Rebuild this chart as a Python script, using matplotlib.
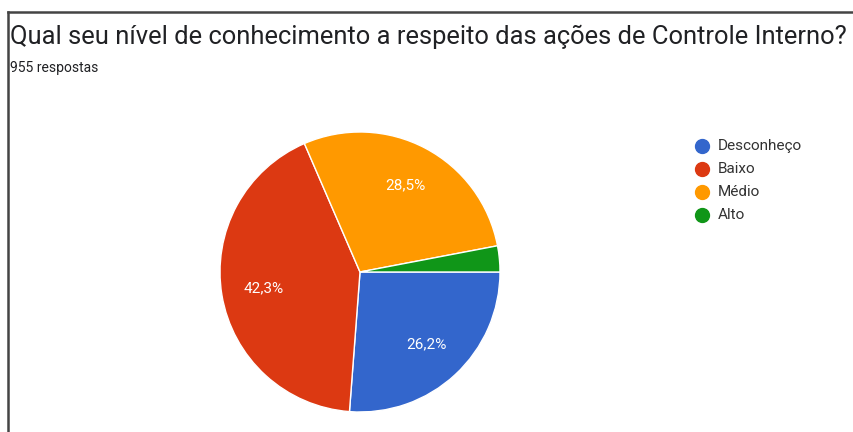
import matplotlib
matplotlib.use("Agg")
import matplotlib.pyplot as plt
from matplotlib.lines import Line2D

plt.rcParams['font.family'] = ['Roboto', 'DejaVu Sans']

title = "Qual seu nível de conhecimento a respeito das ações de Controle Interno?"
subtitle = "955 respostas"
categories = ["Desconheço", "Baixo", "Médio", "Alto"]
values = [26.2, 42.3, 28.5, 3.0]
colors = ["#3366CC", "#DC3912", "#FF9900", "#109618"]

W, H = 854, 432
fig = plt.figure(figsize=(W / 100, H / 100), dpi=100)
fig.patch.set_facecolor("white")

# pie axes: center (360,272) px, radius 140 px
cx, cy, r = 360, 272, 140
ax = fig.add_axes([(cx - r) / W, (H - cy - r) / H, 2 * r / W, 2 * r / H])
ax.set_aspect("equal")

def fmt(p):
    return ("%.1f%%" % p).replace(".", ",") if p >= 5 else ""

wedges, texts, autotexts = ax.pie(
    values, colors=colors, startangle=0, counterclock=False,
    autopct=fmt, pctdistance=0.7, radius=1.0,
    wedgeprops=dict(edgecolor="white", linewidth=1.0),
    textprops=dict(color="white", fontsize=11),
)
ax.set_xlim(-1, 1)
ax.set_ylim(-1, 1)
ax.axis("off")

# titles
fig.text(10 / W, 1 - 37 / H, title, fontsize=18.4, color="#202124",
         ha="left", va="center")
fig.text(10 / W, 1 - 68 / H, subtitle, fontsize=10, color="#202124",
         ha="left", va="center")

# legend
leg_x, leg_y0, leg_dy = 702, 146, 23
for i, (c, lab) in enumerate(zip(colors, categories)):
    y = leg_y0 + i * leg_dy
    fig.add_artist(Line2D([leg_x / W], [1 - y / H], marker="o", markersize=10,
                          markerfacecolor=c, markeredgecolor=c, linestyle="none"))
    fig.text((leg_x + 16) / W, 1 - y / H, lab, fontsize=11, color="#333333",
             ha="left", va="center")

# frame lines
fig.add_artist(Line2D([8 / W, 8 / W], [1 - 12 / H, 0], color="#444444", linewidth=1.8))
fig.add_artist(Line2D([8 / W, 1], [1 - 12 / H, 1 - 12 / H], color="#444444", linewidth=1.8))

fig.savefig("out.png", dpi=100)
